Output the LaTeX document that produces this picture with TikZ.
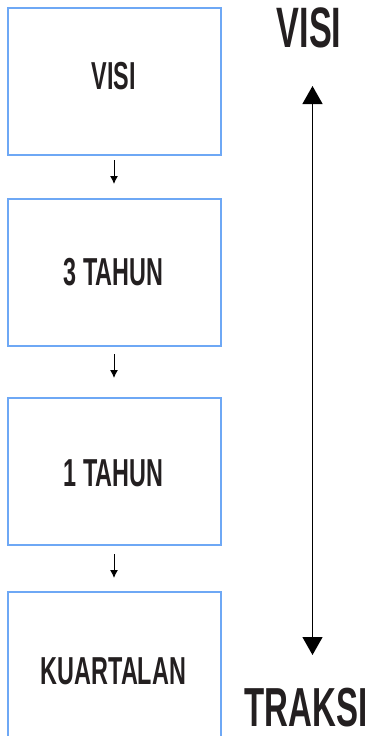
\documentclass[tikz,border=0pt]{standalone}
\usepackage{fontspec}
\setmainfont{Liberation Sans}
\newfontfamily\condf[FakeStretch=0.6,BoldFont={* Bold}]{Liberation Sans}
\usetikzlibrary{arrows.meta}
\definecolor{boxblue}{RGB}{110,168,245}
\definecolor{inkc}{RGB}{35,31,32}
\begin{document}
\begin{tikzpicture}[x=1pt,y=-1pt,
  stagebox/.style={draw=boxblue, line width=2pt, minimum width=213pt, minimum height=147pt, inner sep=0pt},
  boxtext/.style={text=inkc, inner sep=0pt, font=\condf\bfseries\fontsize{39}{39}\selectfont},
  bigtext/.style={text=inkc, inner sep=0pt, font=\condf\bfseries\fontsize{57}{57}\selectfont},
  smallarrow/.style={-{Latex[length=8pt,width=8pt]}, line width=1pt, draw=black},
  bigarrow/.style={{Triangle[length=18pt,width=20pt]}-{Triangle[length=18pt,width=20pt]}, line width=1.3pt, draw=black}]
\useasboundingbox (0,0) rectangle (372,736);
% boxes
\node[stagebox] (b1) at (114,81.5) {};
\node[stagebox] (b2) at (114,272) {};
\node[stagebox] (b3) at (114,471) {};
\node[stagebox] (b4) at (114,665.5) {};
% texts
\node[boxtext] (t1) at (113.5,76.5) {VISI};
\node[boxtext] (t2) at (113.5,272.5) {3 TAHUN};
\node[boxtext] (t3) at (113.5,473) {1 TAHUN};
\node[boxtext] (t4) at (113.5,671) {KUARTALAN};
% small arrows
\coordinate (a1s) at (114,160);
\coordinate (a1e) at (114,184);
\coordinate (a2s) at (114,354);
\coordinate (a2e) at (114,378);
\coordinate (a3s) at (114,554);
\coordinate (a3e) at (114,578);
\draw[smallarrow] (a1s) -- (a1e);
\draw[smallarrow] (a2s) -- (a2e);
\draw[smallarrow] (a3s) -- (a3e);
% right side
\node[bigtext] (vtop) at (309,28) {VISI};
\node[bigtext, font=\condf\bfseries\fontsize{55}{55}\selectfont] (vbot) at (306,708) {TRAKSI};
\coordinate (ut) at (312.5,86);
\coordinate (ub) at (312.5,655);
\draw[bigarrow] (ut) -- (ub);
\end{tikzpicture}
\end{document}
